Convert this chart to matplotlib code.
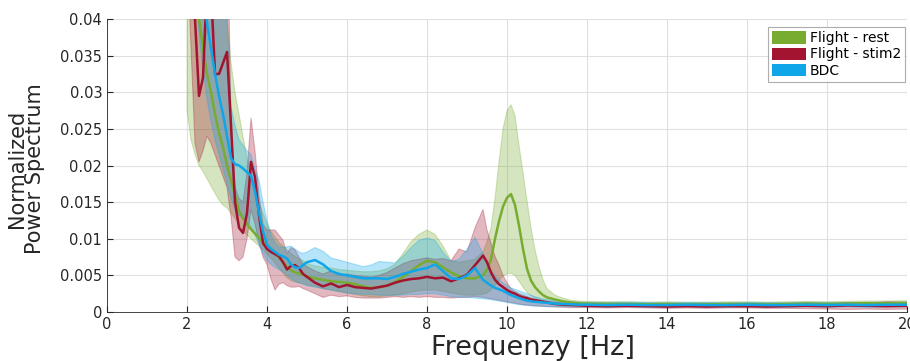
import numpy as np
import matplotlib
matplotlib.use('Agg')
import matplotlib.pyplot as plt
from matplotlib.patches import Patch

# frequency grid [Hz]: fine steps where the spectra change fast
freq = np.concatenate([
    np.arange(2.0, 4.95, 0.1),    # 30
    np.arange(5.0, 9.45, 0.2),    # 23
    np.arange(9.5, 10.95, 0.1),   # 15
    np.arange(11.0, 11.85, 0.2),  # 5
    np.arange(12.0, 20.05, 0.5),  # 17
])

# spectra in units of 1e-3 (mean, lower and upper bound)
rest_mean = [75, 60, 47, 40, 36, 32.5, 30, 27, 24.5, 22.5,
             20, 18, 16, 13.8, 12.8, 12, 11.3, 10.7, 10.1, 9.6,
             9.1, 8.6, 8.1, 7.4, 6.8, 6.2, 5.7, 5.4, 5.3, 5.1,
             4.8, 4.6, 4.4, 4.2, 4.1, 4.0, 3.8, 3.5, 3.3, 3.4, 3.6, 4.1,
             4.8, 5.6, 6.4, 7.0, 6.8, 6.1, 5.4, 4.9, 4.6, 4.6, 5.0,
             5.8, 7.2, 10.0, 12.4, 14.4, 15.6, 16.1, 14.6, 11.8, 8.6,
             5.9, 4.3, 3.4, 2.8, 2.3,
             2.0, 1.7, 1.45, 1.3, 1.2,
             1.15, 1.1, 1.1, 1.05, 1.1, 1.05, 1.05, 1.1, 1.1, 1.05,
             1.1, 1.15, 1.1, 1.15, 1.2, 1.2, 1.25]
rest_lo = [27.5, 23.5, 21.5, 20, 19.2, 18.2, 17.2, 16.2, 15.3, 14.6,
           14.2, 13.5, 12.8, 12.0, 11.2, 10.5, 10.0, 9.5, 9.0, 8.5,
           7.9, 7.3, 6.7, 6.0, 5.3, 4.7, 4.3, 4.1, 4.0, 3.9,
           3.7, 3.5, 3.2, 3.0, 2.8, 2.6, 2.4, 2.2, 2.1, 2.1, 2.2, 2.3,
           2.5, 2.7, 2.9, 3.0, 3.0, 2.8, 2.6, 2.4, 2.3, 2.3, 2.4,
           2.6, 3.0, 3.6, 4.3, 4.9, 5.2, 5.3, 5.0, 4.2, 3.4,
           2.7, 2.2, 1.9, 1.6, 1.4,
           1.3, 1.1, 1.0, 0.95, 0.9,
           0.9, 0.85, 0.85, 0.8, 0.85, 0.8, 0.8, 0.85, 0.85, 0.8,
           0.85, 0.9, 0.85, 0.9, 0.95, 0.95, 1.0]
rest_hi = [60, 60, 60, 60, 60, 60, 60, 60, 60, 60,
           40, 34, 30, 27, 24, 21, 19, 17, 15, 13.5,
           12, 11, 10.2, 9.5, 9, 8.5, 8, 7.6, 7.3, 7.0,
           6.6, 6.3, 6.1, 6.0, 5.8, 5.7, 5.6, 5.5, 5.5, 5.6, 5.9, 6.5,
           8.0, 9.6, 10.6, 11.2, 10.6, 9.0, 7.0, 6.8, 7.0, 7.2, 8.2,
           9.6, 11.5, 15.5, 20.5, 25.0, 27.5, 28.3, 26.8, 22.8, 19.0,
           15.2, 11.5, 8.5, 6.2, 4.4,
           3.2, 2.3, 1.9, 1.6, 1.5,
           1.45, 1.4, 1.4, 1.35, 1.4, 1.35, 1.35, 1.4, 1.4, 1.35,
           1.4, 1.45, 1.4, 1.45, 1.5, 1.5, 1.55]

stim_mean = [60, 50, 40, 29.5, 32, 45, 44, 32.5, 32.5, 34,
             35.5, 25.5, 15, 11.5, 10.8, 13.5, 20.5, 18.4, 13.2, 9.4,
             8.6, 8.2, 7.9, 7.6, 6.8, 5.8, 6.3, 6.4, 6.0, 5.2,
             4.8, 4.0, 3.5, 3.9, 3.4, 3.7, 3.4, 3.3, 3.2, 3.4, 3.6, 4.0,
             4.3, 4.5, 4.6, 4.8, 4.6, 4.7, 4.2, 4.6, 5.1, 6.4, 7.7,
             6.8, 5.4, 4.4, 3.8, 3.4, 3.0, 2.7, 2.5, 2.2, 2.0,
             1.9, 1.7, 1.6, 1.5, 1.4,
             1.3, 1.1, 1.0, 0.95, 0.9,
             0.85, 0.8, 0.85, 0.8, 0.75, 0.8, 0.75, 0.8, 0.8, 0.75,
             0.8, 0.85, 0.8, 0.9, 0.85, 0.8, 0.85]
stim_lo = [50, 36, 23, 20.5, 22, 24, 23, 21.5, 20, 18.5,
           17, 13, 7.5, 7, 7.5, 10, 14, 12, 9.5, 7.5,
           6.5, 4.5, 3.0, 3.8, 4.0, 3.6, 3.4, 3.4, 3.5, 3.2,
           3.0, 2.5, 2.0, 2.3, 2.1, 2.2, 2.0, 1.9, 1.9, 1.9, 2.0, 2.1,
           2.0, 2.1, 2.0, 2.1, 2.0, 2.0, 1.9, 2.0, 2.0, 2.1, 2.0,
           1.9, 1.8, 1.7, 1.6, 1.5, 1.4, 1.3, 1.2, 1.1, 1.0,
           0.95, 0.9, 0.85, 0.8, 0.8,
           0.75, 0.7, 0.65, 0.6, 0.6,
           0.6, 0.55, 0.6, 0.55, 0.5, 0.55, 0.5, 0.55, 0.55, 0.5,
           0.5, 0.45, 0.4, 0.35, 0.4, 0.35, 0.4]
stim_hi = [60, 60, 60, 60, 60, 60, 60, 60, 60, 60,
           60, 25, 17, 15.5, 15, 19, 26.5, 22, 16, 12,
           11.2, 11.2, 11.2, 10.5, 9.8, 8.0, 8.8, 8.5, 7.5, 6.5,
           6.2, 5.6, 5.2, 5.6, 5.0, 5.2, 5.0, 4.9, 4.8, 5.0, 5.4, 6.0,
           6.6, 7.0, 7.2, 7.4, 7.2, 7.3, 7.0, 8.6, 8.2, 11.5, 14.0,
           11.2, 9.4, 7.6, 6.4, 5.0, 4.0, 3.2, 2.8, 2.5, 2.3,
           2.1, 1.9, 1.8, 1.7, 1.6,
           1.5, 1.35, 1.25, 1.2, 1.15,
           1.1, 1.05, 1.1, 1.05, 1.0, 1.05, 1.0, 1.05, 1.05, 1.0,
           1.05, 1.25, 1.1, 1.3, 1.2, 1.4, 1.3]

bdc_mean = [70, 60, 52, 47, 43, 39.5, 36, 32.5, 29.5, 27,
            24, 21, 20.2, 20, 19.6, 19.1, 18.6, 16.5, 13.5, 11,
            9.2, 8.6, 8.2, 7.8, 7.6, 7.3, 6.5, 6.1, 6.0, 6.4,
            6.8, 7.1, 6.5, 5.6, 5.2, 5.0, 4.8, 4.6, 4.6, 4.6, 4.5, 4.8,
            5.2, 5.5, 5.8, 6.0, 6.5, 5.6, 4.6, 4.5, 5.0, 6.0, 4.4,
            4.0, 3.6, 3.3, 3.1, 2.9, 2.6, 2.3, 2.1, 1.9, 1.7,
            1.55, 1.45, 1.4, 1.35, 1.3,
            1.25, 1.15, 1.1, 1.05, 1.0,
            1.0, 0.95, 1.0, 0.95, 0.95, 1.0, 0.95, 0.95, 1.0, 0.95,
            0.95, 1.0, 0.95, 1.0, 0.95, 1.0, 1.0]
bdc_lo = [60, 55, 45, 38, 33, 29, 26, 23.5, 21.5, 19.5,
          17.5, 15.5, 14.0, 13.2, 12.8, 12.3, 11.7, 10.5, 9.2, 8.0,
          7.0, 6.5, 6.1, 5.8, 5.5, 5.0, 4.6, 4.2, 4.0, 3.8,
          3.6, 3.4, 3.2, 3.0, 2.8, 2.6, 2.5, 2.4, 2.4, 2.3, 2.3, 2.3,
          2.3, 2.4, 2.4, 2.5, 2.5, 2.3, 2.1, 2.0, 2.0, 1.9, 1.8,
          1.75, 1.7, 1.6, 1.5, 1.4, 1.3, 1.2, 1.1, 1.0, 0.95,
          0.9, 0.85, 0.8, 0.8, 0.75,
          0.75, 0.7, 0.7, 0.7, 0.7,
          0.7, 0.65, 0.7, 0.65, 0.65, 0.7, 0.65, 0.65, 0.7, 0.65,
          0.65, 0.7, 0.65, 0.7, 0.65, 0.7, 0.7]
bdc_hi = [60, 60, 60, 60, 60, 60, 60, 60, 60, 60,
          40, 28, 25.5, 23.5, 22.8, 22, 21.5, 19.5, 18, 15,
          12.5, 10.5, 9.5, 9.0, 8.8, 8.9, 9.0, 8.6, 8.2, 8.0,
          8.2, 8.8, 8.3, 7.4, 7.1, 6.8, 6.5, 6.2, 6.4, 6.9, 6.8, 6.7,
          7.6, 8.8, 9.8, 10.1, 9.8, 8.2, 6.9, 7.2, 8.6, 10.2, 8.0,
          6.8, 5.7, 4.9, 4.4, 4.0, 3.6, 3.3, 3.1, 2.9, 2.7,
          2.5, 2.3, 2.1, 1.95, 1.8,
          1.7, 1.55, 1.45, 1.4, 1.35,
          1.3, 1.3, 1.35, 1.3, 1.25, 1.3, 1.3, 1.25, 1.3, 1.3,
          1.25, 1.3, 1.3, 1.25, 1.3, 1.3, 1.3]

labels = ['Flight - rest', 'Flight - stim2', 'BDC']
colors = ['#77AC30', '#A2142F', '#0FA6E8']
series = [(rest_mean, rest_lo, rest_hi),
          (stim_mean, stim_lo, stim_hi),
          (bdc_mean, bdc_lo, bdc_hi)]

xticks = np.arange(0, 21, 2)
yticks = np.arange(0, 0.0401, 0.005)
ytick_labels = ['0', '0.005', '0.01', '0.015', '0.02', '0.025', '0.03', '0.035', '0.04']

fig = plt.figure(figsize=(9.1, 3.61), dpi=100)
ax = fig.add_axes([0.1176, 0.1357, 0.8791, 0.8116])

for (m, lo, hi), c in zip(series, colors):
    m = np.array(m) * 1e-3
    lo = np.array(lo) * 1e-3
    hi = np.array(hi) * 1e-3
    ax.fill_between(freq, lo, hi, facecolor=c, alpha=0.3, edgecolor=c, linewidth=0.8)
    ax.plot(freq, m, color=c, linewidth=1.8)

ax.set_xlim(0, 20)
ax.set_ylim(0, 0.04)
ax.set_xticks(xticks)
ax.set_yticks(yticks)
ax.set_yticklabels(ytick_labels)
ax.tick_params(direction='in', length=4, labelsize=10.5, colors='#262626')
ax.grid(True, color='#e0e0e0', linewidth=0.8)
ax.set_axisbelow(True)
for s in ['top', 'right']:
    ax.spines[s].set_visible(False)
for s in ['left', 'bottom']:
    ax.spines[s].set_color('#262626')
    ax.spines[s].set_linewidth(0.6)

ax.set_xlabel('Frequenzy [Hz]', fontsize=19.5, color='#262626')
ax.xaxis.set_label_coords(0.5325, -0.08)
ax.set_ylabel('Normalized\nPower Spectrum', fontsize=15, color='#262626', linespacing=0.9)
ax.yaxis.set_label_coords(-0.077, 0.49)

handles = [Patch(facecolor=c, edgecolor='none') for c in colors]
leg = ax.legend(handles, labels, loc='upper right', bbox_to_anchor=(0.998, 0.972),
                fontsize=10, frameon=True, fancybox=False, handlelength=2.4,
                handleheight=1.0, handletextpad=0.3, borderpad=0.3, labelspacing=0.15,
                borderaxespad=0)
leg.get_frame().set_edgecolor('#999999')
leg.get_frame().set_linewidth(0.8)

fig.savefig('out.png', dpi=100)
